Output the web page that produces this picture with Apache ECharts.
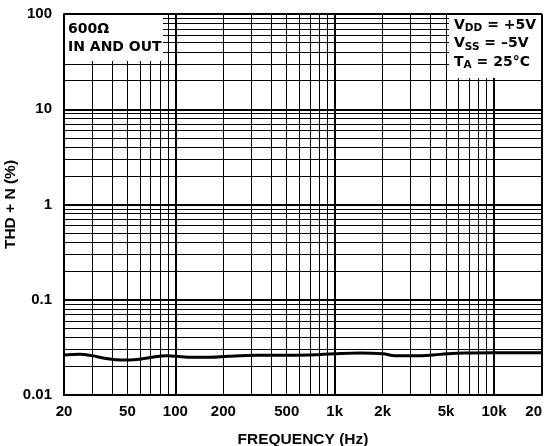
<!DOCTYPE html>
<html>
<head>
<meta charset="utf-8">
<script src="https://cdn.jsdelivr.net/npm/echarts@6/dist/echarts.min.js"></script>
<style>html,body{margin:0;padding:0;background:#fff}#c{width:545px;height:446px}</style>
</head>
<body>
<div id="c"></div>
<script>
// Curve: THD+N (%) vs frequency (Hz)
var freq = [20, 25, 30, 36, 46, 52, 61, 73, 87, 100, 130, 165, 215, 325, 500, 700, 1000, 1450, 2000, 2400, 3500, 4600, 6500, 10000, 20000];
var thdn = [0.0263, 0.0267, 0.0259, 0.0243, 0.0233, 0.0233, 0.0239, 0.0251, 0.0259, 0.0255, 0.0249, 0.0249, 0.0255, 0.0261, 0.0262, 0.0263, 0.0271, 0.0276, 0.0271, 0.0259, 0.0259, 0.0267, 0.0276, 0.0278, 0.0278];

// Axis ticks
var xTickValues = [20, 50, 100, 200, 500, 1000, 2000, 5000, 10000, 20000];
var xTickLabels = ['20', '50', '100', '200', '500', '1k', '2k', '5k', '10k', '20'];
var xMajorGrid = [100, 1000, 10000, 20000];
var xMinorGrid = [30, 40, 50, 60, 70, 80, 90, 200, 300, 400, 500, 600, 700, 800, 900, 2000, 3000, 4000, 5000, 6000, 7000, 8000, 9000];
var yTickValues = [0.01, 0.1, 1, 10, 100];
var yTickLabels = ['0.01', '0.1', '1', '10', '100'];
var yMajorGrid = [0.1, 1, 10, 100];
var yMinorGrid = [0.02, 0.03, 0.04, 0.05, 0.06, 0.07, 0.08, 0.09, 0.2, 0.3, 0.4, 0.5, 0.6, 0.7, 0.8, 0.9, 2, 3, 4, 5, 6, 7, 8, 9, 20, 30, 40, 50, 60, 70, 80, 90];

var FONT = '"Liberation Sans", Arial, Helvetica, sans-serif';
var BOXFONT = '"DejaVu Sans", "Liberation Sans", sans-serif';

function labelFor(values, labels) {
  return function (v) {
    for (var i = 0; i < values.length; i++) {
      if (Math.abs(v - values[i]) / values[i] < 1e-6) return labels[i];
    }
    return '';
  };
}

var chart = echarts.init(document.getElementById('c'), null, {renderer: 'canvas'});
var tickLabelStyle = {color: '#000', fontFamily: FONT, fontWeight: 'bold', fontSize: 15};

chart.setOption({
  animation: false,
  backgroundColor: '#fff',
  grid: {left: 64, right: 3, top: 14, bottom: 51, show: false, containLabel: false, outerBoundsMode: 'none'},
  xAxis: [{
    type: 'log', logBase: 10, min: 20, max: 20000,
    name: 'FREQUENCY (Hz)', nameLocation: 'middle', nameGap: 37, nameMoveOverlap: false,
    nameTextStyle: {color: '#000', fontFamily: FONT, fontWeight: 'bold', fontSize: 15.5},
    axisLine: {show: true, lineStyle: {color: '#000', width: 2}},
    axisTick: {show: false, customValues: xMajorGrid},
    axisLabel: Object.assign({customValues: xTickValues, formatter: labelFor(xTickValues, xTickLabels), margin: 9, alignMaxLabel: 'right', hideOverlap: false}, tickLabelStyle),
    splitLine: {show: true, lineStyle: {color: '#000', width: 2}},
    z: 3
  }, {
    type: 'log', logBase: 10, min: 20, max: 20000, position: 'bottom',
    axisLine: {show: false}, axisTick: {show: false, customValues: xMinorGrid},
    axisLabel: {show: false},
    splitLine: {show: true, lineStyle: {color: '#000', width: 1}}
  }],
  yAxis: [{
    type: 'log', logBase: 10, min: 0.01, max: 100,
    name: 'THD + N (%)', nameLocation: 'middle', nameGap: 45, nameMoveOverlap: false,
    nameTextStyle: {color: '#000', fontFamily: FONT, fontWeight: 'bold', fontSize: 15.5},
    axisLine: {show: true, lineStyle: {color: '#000', width: 2}},
    axisTick: {show: false, customValues: yMajorGrid},
    axisLabel: Object.assign({customValues: yTickValues, formatter: labelFor(yTickValues, yTickLabels), margin: 12}, tickLabelStyle),
    splitLine: {show: true, lineStyle: {color: '#000', width: 2}},
    z: 3
  }, {
    type: 'log', logBase: 10, min: 0.01, max: 100, position: 'left',
    axisLine: {show: false}, axisTick: {show: false, customValues: yMinorGrid},
    axisLabel: {show: false},
    splitLine: {show: true, lineStyle: {color: '#000', width: 1}}
  }],
  series: [{
    type: 'line', xAxisIndex: 0, yAxisIndex: 0,
    data: freq.map(function (f, i) { return [f, thdn[i]]; }),
    smooth: 0.4, showSymbol: false, symbol: 'none',
    lineStyle: {color: '#000', width: 3},
    z: 5
  }],
  graphic: [
    {type: 'rect', left: 65, top: 15, shape: {width: 98, height: 46}, style: {fill: '#fff'}, z: 10},
    {type: 'text', left: 68, top: 20, z: 11, style: {
      text: '600Ω\nIN AND OUT', fill: '#000', font: 'bold 14px ' + BOXFONT, lineHeight: 18
    }},
    {type: 'rect', left: 449, top: 15, shape: {width: 92, height: 63}, style: {fill: '#fff'}, z: 10},
    {type: 'text', left: 454, top: 18, z: 11, style: {
      text: '{m|V}{s|DD}{m| = +5V}\n{m|V}{s|SS}{m| = –5V}\n{m|T}{s|A}{m| = 25°C}',
      fill: '#000', font: 'bold 14px ' + BOXFONT,
      rich: {
        m: {fontFamily: BOXFONT, fontWeight: 'bold', fontSize: 14, lineHeight: 18.5, fill: '#000', verticalAlign: 'middle'},
        s: {fontFamily: BOXFONT, fontWeight: 'bold', fontSize: 10.5, lineHeight: 18.5, fill: '#000', verticalAlign: 'bottom'}
      }
    }}
  ]
});
</script>
</body>
</html>
